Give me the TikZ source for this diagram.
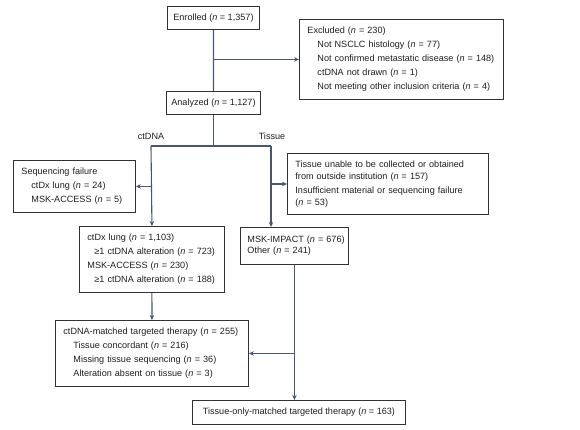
\documentclass[tikz,border=0pt]{standalone}
\usepackage{fontspec}
\setmainfont{Liberation Sans}
\usetikzlibrary{arrows.meta,calc}

\definecolor{linkcol}{HTML}{4A5670}
\definecolor{boxcol}{HTML}{333333}
\definecolor{txtcol}{HTML}{1E1E1E}
\newcommand{\indt}{\hspace*{10bp}}

\begin{document}
\begin{tikzpicture}[x=1bp,y=-1bp,
    box/.style={draw=boxcol, line width=0.9pt, rectangle, anchor=north west,
      inner xsep=8bp, inner ysep=0pt, align=left, text=txtcol,
      font=\fontsize{9.1bp}{14bp}\selectfont},
    cbox/.style={box, align=center, inner xsep=0pt},
    lbl/.style={text=txtcol, font=\fontsize{9.1bp}{14bp}\selectfont},
    link/.style={draw=linkcol, line width=1.1pt},
    arr/.style={link, -{Stealth[length=5bp,width=4.5bp]}}]
  \useasboundingbox (0,0) rectangle (580,429);

  % Cajas
  \node[cbox, minimum width=92bp, minimum height=23bp] (enrolled) at (167,6)
    {Enrolled (\textit{n} = 1,357)};
  \node[box, text width=188bp, minimum height=80bp] (excluded) at (299,19)
    {Excluded (\textit{n} = 230)\\
     \indt Not NSCLC histology (\textit{n} = 77)\\
     \indt Not confirmed metastatic disease (\textit{n} = 148)\\
     \indt ctDNA not drawn (\textit{n} = 1)\\
     \indt Not meeting other inclusion criteria (\textit{n} = 4)};
  \node[cbox, minimum width=94bp, minimum height=23bp] (analyzed) at (166,91)
    {Analyzed (\textit{n} = 1,127)};

  % Etiquetas de ramas
  \node[lbl] (ctlbl) at (151,136) {ctDNA};
  \node[lbl] (tislbl) at (272,136) {Tissue};

  \node[box, text width=106bp, minimum height=52bp] (seqfail) at (13,160)
    {Sequencing failure\\
     \indt ctDx lung (\textit{n} = 24)\\
     \indt MSK-ACCESS (\textit{n} = 5)};
  \node[box, text width=185bp, minimum height=61bp] (tissuefail) at (287,153)
    {Tissue unable to be collected or obtained\\[-2bp]
     from outside institution (\textit{n} = 157)\\
     Insufficient material or sequencing failure\\[-2bp]
     (\textit{n} = 53)};
  \node[box, inner xsep=5bp, text width=135bp, minimum height=66bp] (ctdx) at (79,226)
    {\hspace*{3bp}ctDx lung (\textit{n} = 1,103)\\
     \hspace*{10bp}≥1 ctDNA alteration (\textit{n} = 723)\\
     \hspace*{3bp}MSK-ACCESS (\textit{n} = 230)\\
     \hspace*{10bp}≥1 ctDNA alteration (\textit{n} = 188)};
  \node[box, inner xsep=2bp, text width=104bp, minimum height=37bp] (impact) at (240,227)
    {\hspace*{5bp}MSK-IMPACT (\textit{n} = 676)\\[-3bp]
     \hspace*{5bp}Other (\textit{n} = 241)};
  \node[box, inner xsep=6bp, text width=181bp, minimum height=66bp] (ctmatched) at (55,320)
    {\hspace*{2bp}ctDNA-matched targeted therapy (\textit{n} = 255)\\
     \hspace*{12bp}Tissue concordant (\textit{n} = 216)\\
     \hspace*{12bp}Missing tissue sequencing (\textit{n} = 36)\\
     \hspace*{12bp}Alteration absent on tissue (\textit{n} = 3)};
  \node[cbox, minimum width=213bp, minimum height=24bp] (tismatched) at (192,400)
    {Tissue-only-matched targeted therapy (\textit{n} = 163)};

  % Conectores
  \draw[link] (enrolled) -- (analyzed);
  \draw[arr] (enrolled.south |- excluded.west) -- (excluded.west);
  \coordinate (ctbr) at (151,146);
  \coordinate (tisbr) at (271,146);
  \draw[link] (analyzed.south) -- (analyzed.south |- ctbr);
  \draw[link] (ctbr) -- (tisbr);
  \draw[arr] (ctbr) -- (ctdx.north);
  \draw[arr] (tisbr) -- (tisbr |- impact.north);
  \draw[arr] (ctbr |- seqfail.east) -- (seqfail.east);
  \draw[arr] (tisbr |- tissuefail.west) -- (tissuefail.west);
  \draw[arr] (ctdx) -- (ctmatched);
  \draw[arr] (impact.south) -- (impact.south |- tismatched.north);
  \draw[arr] (impact.south |- ctmatched.east) -- (ctmatched.east);
\end{tikzpicture}
\end{document}
